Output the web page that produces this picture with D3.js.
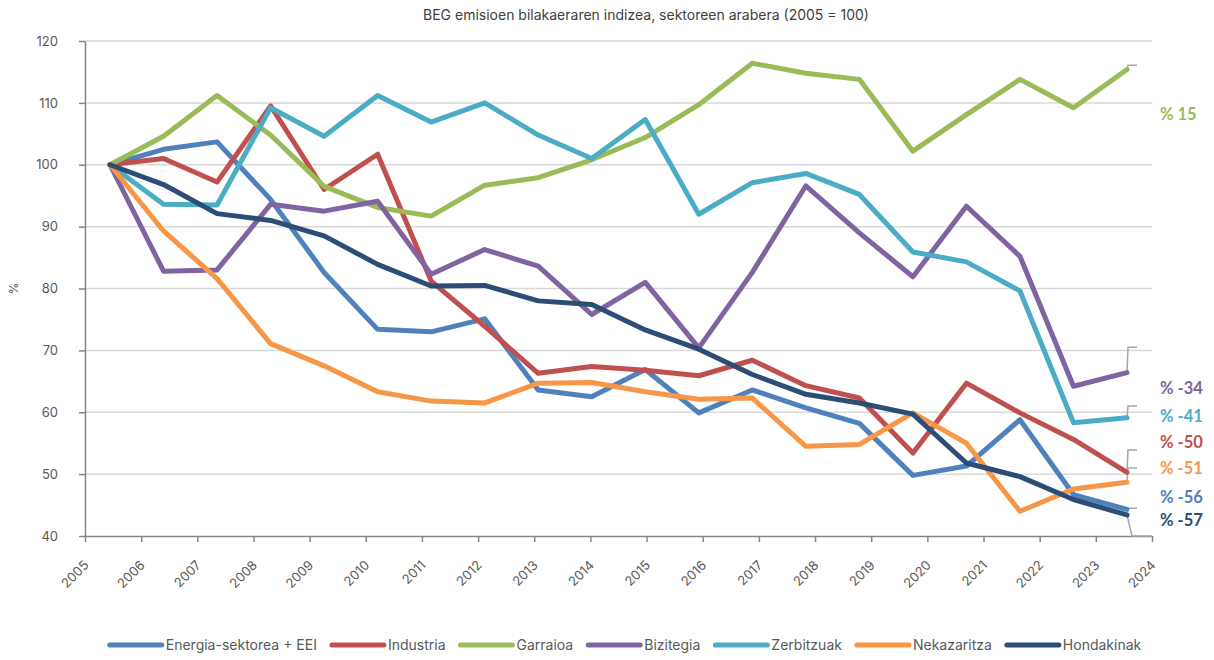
<!DOCTYPE html>
<html>
<head>
<meta charset="utf-8">
<script src="https://cdn.jsdelivr.net/npm/d3@7/dist/d3.min.js"></script>
<style>
  body { margin: 0; background: #fff; }
  text { font-family: Inter, "Open Sans", sans-serif; }
</style>
</head>
<body>
<svg id="chart"></svg>
<script>
// years on the category axis
const years = ["2005", "2006", "2007", "2008", "2009", "2010", "2011", "2012", "2013", "2014",
  "2015", "2016", "2017", "2018", "2019", "2020", "2021", "2022", "2023", "2024"];

// index values per sector (2005 = 100)
const energia = [100, 102.5, 103.7, 94.4, 82.6, 73.4, 73.0, 75.1, 63.6, 62.5, 66.9, 59.9, 63.6, 60.7, 58.2, 49.8, 51.3, 58.8, 46.7, 44.3];
const industria = [100, 101.0, 97.2, 109.5, 96.0, 101.7, 81.2, 73.9, 66.3, 67.4, 66.8, 65.9, 68.4, 64.3, 62.3, 53.4, 64.7, 59.9, 55.6, 50.3];
const garraioa = [100, 104.6, 111.2, 104.8, 96.5, 93.1, 91.7, 96.7, 97.9, 100.8, 104.4, 109.7, 116.4, 114.8, 113.8, 102.2, 108.1, 113.8, 109.2, 115.4];
const bizitegia = [100, 82.8, 83.0, 93.6, 92.5, 94.1, 82.3, 86.3, 83.6, 75.8, 81.0, 70.4, 82.6, 96.6, 89.0, 81.9, 93.3, 85.2, 64.2, 66.4];
const zerbitzuak = [100, 93.6, 93.5, 109.2, 104.6, 111.2, 106.9, 110.0, 104.8, 101.0, 107.3, 92.0, 97.1, 98.6, 95.2, 85.9, 84.3, 79.6, 58.3, 59.1];
const nekazaritza = [100, 89.3, 81.6, 71.1, 67.5, 63.3, 61.8, 61.5, 64.7, 64.8, 63.3, 62.1, 62.3, 54.5, 54.8, 59.9, 55.0, 44.0, 47.6, 48.7];
const hondakinak = [100, 96.8, 92.1, 91.0, 88.5, 83.9, 80.4, 80.5, 78.0, 77.4, 73.3, 70.2, 66.1, 62.9, 61.5, 59.7, 51.8, 49.6, 45.9, 43.4];

const seriesNames = ["Energia-sektorea + EEI", "Industria", "Garraioa", "Bizitegia", "Zerbitzuak", "Nekazaritza", "Hondakinak"];
const yTicks = [40, 50, 60, 70, 80, 90, 100, 110, 120];

const title = "BEG emisioen bilakaeraren indizea, sektoreen arabera (2005 = 100)";

const series = [
  { name: seriesNames[0], values: energia, color: "#4F81BD", stub: 44.5, label: 46.3 },
  { name: seriesNames[1], values: industria, color: "#C0504D", stub: 53.9, label: 55.2 },
  { name: seriesNames[2], values: garraioa, color: "#9BBB59", stub: 116.1, label: 108.2 },
  { name: seriesNames[3], values: bizitegia, color: "#8064A2", stub: 70.5, label: 63.9 },
  { name: seriesNames[4], values: zerbitzuak, color: "#4BACC6", stub: 61.0, label: 59.4 },
  { name: seriesNames[5], values: nekazaritza, color: "#F79646", stub: 51.0, label: 51.0 },
  { name: seriesNames[6], values: hondakinak, color: "#2C4D75", stub: 40.0, label: 42.6 }
];

const W = 1214, H = 660;
const margin = { top: 41, right: 62, bottom: 124, left: 85 };
const width = W - margin.left - margin.right;
const height = H - margin.top - margin.bottom;

const svg = d3.select("#chart").attr("width", W).attr("height", H);

// title
svg.append("text")
  .attr("x", 646).attr("y", 20)
  .attr("text-anchor", "middle")
  .style("font-size", "14px")
  .style("fill", "#404040")
  .text(title);

const g = svg.append("g").attr("transform", "translate(" + margin.left + "," + margin.top + ")");

// axis ticks sit on the category edges, the lines are drawn a bit inside
const xAxisScale = d3.scalePoint().domain(years).range([0, width]);
const x = d3.scalePoint().domain(years).range([25, width - 25]);
const y = d3.scaleLinear().domain([40, 120]).range([height, 0]);

// grid lines
g.append("g")
  .selectAll("line")
  .data(yTicks.slice(1))
  .enter()
  .append("line")
  .attr("x1", 0).attr("x2", width)
  .attr("y1", d => y(d)).attr("y2", d => y(d))
  .style("stroke", "#d9d9d9")
  .style("stroke-width", 1.5);

// Y axis
const yAxis = g.append("g").call(d3.axisLeft(y).tickValues(yTicks).tickSize(6).tickSizeOuter(0).tickPadding(21));
yAxis.select(".domain").style("stroke", "#868686").style("stroke-width", 1.5);
yAxis.selectAll(".tick line").style("stroke", "#868686").style("stroke-width", 1.5);
yAxis.selectAll(".tick text").style("font-size", "13px").style("fill", "#595959");

svg.append("text")
  .attr("transform", "translate(18," + (margin.top + height / 2) + ") rotate(-90)")
  .attr("text-anchor", "middle")
  .style("font-size", "12px")
  .style("fill", "#595959")
  .text("%");

// X axis
const xAxis = g.append("g")
  .attr("transform", "translate(0," + height + ")")
  .call(d3.axisBottom(xAxisScale).tickSize(6).tickSizeOuter(0));
xAxis.select(".domain").style("stroke", "#868686").style("stroke-width", 1.5);
xAxis.selectAll(".tick line").style("stroke", "#868686").style("stroke-width", 1.5);
xAxis.selectAll(".tick text")
  .attr("text-anchor", "end")
  .attr("dy", null)
  .attr("y", null)
  .attr("transform", "translate(4,30) rotate(-45)")
  .style("font-size", "13px")
  .style("fill", "#595959");

// leader lines to the end labels
const last = years[years.length - 1];
const xEnd = x(last);
g.append("g")
  .selectAll("path")
  .data(series)
  .enter()
  .append("path")
  .attr("d", d => {
    const v = d.values[d.values.length - 1];
    const sx = d.stub <= 40 ? xEnd + 5 : xEnd + 1;
    const ex = d.stub <= 40 ? width : xEnd + 10;
    return "M" + xEnd + "," + y(v) + "L" + sx + "," + y(d.stub) + "L" + ex + "," + y(d.stub);
  })
  .style("fill", "none")
  .style("stroke", "#a6a6a6")
  .style("stroke-width", 1.5);

// lines
const line = d3.line()
  .x((d, i) => x(years[i]))
  .y(d => y(d));

g.append("g")
  .selectAll("path")
  .data(series)
  .enter()
  .append("path")
  .attr("d", d => line(d.values))
  .style("fill", "none")
  .style("stroke", d => d.color)
  .style("stroke-width", 5)
  .style("stroke-linejoin", "round")
  .style("stroke-linecap", "round");

// end labels
g.append("g")
  .selectAll("text")
  .data(series)
  .enter()
  .append("text")
  .attr("x", width + 8)
  .attr("y", d => y(d.label))
  .attr("dy", "0.35em")
  .style("font-family", "Lato, sans-serif")
  .style("font-weight", "bold")
  .style("font-size", "16.5px")
  .style("fill", d => d.color)
  .text(d => "% " + Math.round(d.values[d.values.length - 1] - 100));

// legend
const legend = svg.append("g");
let lx = 0;
series.forEach(d => {
  const item = legend.append("g").attr("transform", "translate(" + lx + ",0)");
  item.append("line")
    .attr("x1", 2).attr("x2", 54)
    .attr("y1", 0).attr("y2", 0)
    .style("stroke", d.color)
    .style("stroke-width", 5)
    .style("stroke-linecap", "round");
  const t = item.append("text")
    .attr("x", 58).attr("dy", "0.35em")
    .style("font-size", "14px")
    .style("fill", "#595959")
    .text(d.name);
  lx += 58 + t.node().getComputedTextLength() + 13;
});
legend.attr("transform", "translate(" + (631 - lx / 2) + ",645)");
</script>
</body>
</html>
